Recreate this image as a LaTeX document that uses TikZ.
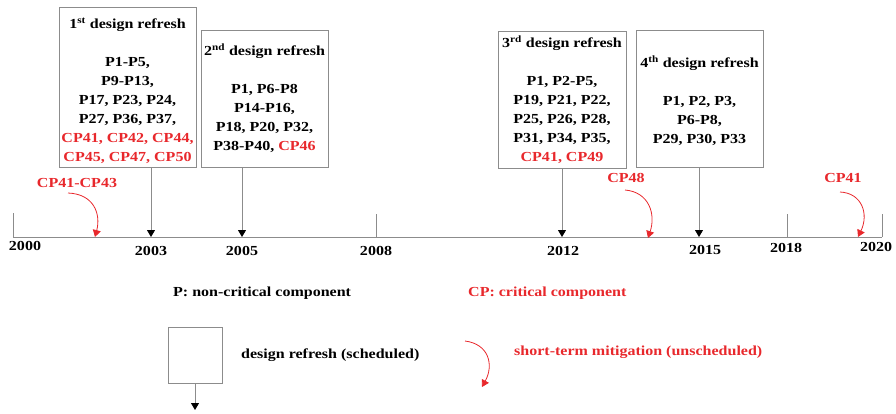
\documentclass[tikz,border=0pt]{standalone}
\usepackage{fontspec}
\setmainfont{Liberation Serif}[FakeStretch=1.16]
\usetikzlibrary{arrows.meta}
\definecolor{cpred}{RGB}{232,40,44}
\definecolor{linegray}{RGB}{140,140,140}
\tikzset{
  every node/.style={font=\fontsize{13.8}{19}\selectfont\bfseries, inner sep=0pt},
  box/.style={draw=linegray, line width=0.9pt, inner sep=0pt},
  boxtext/.style={align=center},
  blkarr/.style={draw=linegray, line width=0.9pt, -{Triangle[width=8pt,length=7pt,color=black]}},
  redarr/.style={draw=cpred, line width=0.8pt, -{Triangle[width=8pt,length=7pt,color=cpred]}},
  axisline/.style={draw=linegray, line width=0.9pt},
  yearlbl/.style={text=black},
  redlbl/.style={text=cpred}
}
\begin{document}
\begin{tikzpicture}[x=1pt,y=-1pt]
\useasboundingbox (0,0) rectangle (896,413);
% axis coordinates
\coordinate (a2000) at (13,237);
\coordinate (a2003) at (151,237);
\coordinate (a2005) at (242,237);
\coordinate (a2008) at (376,237);
\coordinate (a2012) at (562,237);
\coordinate (a2015) at (699,237);
\coordinate (a2018) at (787,237);
\coordinate (a2020) at (882,237);
\coordinate (t2000) at (13,213);
\coordinate (t2008) at (376,214);
\coordinate (t2018) at (787,214);
\coordinate (t2020) at (882,214);
\draw[axisline] (a2000) -- (a2020);
\draw[axisline] (t2000) -- (a2000);
\draw[axisline] (t2008) -- (a2008);
\draw[axisline] (t2018) -- (a2018);
\draw[axisline] (t2020) -- (a2020);
% year labels
\node[yearlbl] (y2000) at (25,246) {2000};
\node[yearlbl] (y2003) at (151,251) {2003};
\node[yearlbl] (y2005) at (242,251) {2005};
\node[yearlbl] (y2008) at (376,251) {2008};
\node[yearlbl] (y2012) at (563,251) {2012};
\node[yearlbl] (y2015) at (705,250) {2015};
\node[yearlbl] (y2018) at (786,248) {2018};
\node[yearlbl] (y2020) at (876,247) {2020};
% boxes
\node[box, minimum width=137pt, minimum height=160pt] (b1) at (127.5,87) {};
\node[boxtext] (b1t) at (127.5,91)
 {1\textsuperscript{st} design refresh\\[19pt]
  P1-P5,\\ P9-P13,\\ P17, P23, P24,\\ P27, P36, P37,\\
  \textcolor{cpred}{CP41, CP42, CP44,}\\ \textcolor{cpred}{CP45, CP47, CP50}};
\node[box, minimum width=127pt, minimum height=137pt] (b2) at (264.5,98.5) {};
\node[boxtext] (b2t) at (264.5,98)
 {2\textsuperscript{nd} design refresh\\[19pt]
  P1, P6-P8\\ P14-P16,\\ P18, P20, P32,\\ P38-P40, \textcolor{cpred}{CP46}};
\node[box, minimum width=128pt, minimum height=137pt] (b3) at (562,99.5) {};
\node[boxtext] (b3t) at (562,99.5)
 {3\textsuperscript{rd} design refresh\\[19pt]
  P1, P2-P5,\\ P19, P21, P22,\\ P25, P26, P28,\\ P31, P34, P35,\\
  \textcolor{cpred}{CP41, CP49}};
\node[box, minimum width=127pt, minimum height=137pt] (b4) at (699.5,98.5) {};
\node[boxtext] (b4t) at (699.5,100.5)
 {4\textsuperscript{th} design refresh\\[19pt]
  P1, P2, P3,\\ P6-P8,\\ P29, P30, P33};
\draw[blkarr] (b1.south -| a2003) -- (a2003);
\draw[blkarr] (b2.south -| a2005) -- (a2005);
\draw[blkarr] (b3.south -| a2012) -- (a2012);
\draw[blkarr] (b4.south -| a2015) -- (a2015);
% short-term mitigations
\node[redlbl] (m1) at (77,183) {CP41-CP43};
\node[redlbl] (m2) at (626,178) {CP48};
\node[redlbl] (m3) at (843,178) {CP41};
\coordinate (m1s) at (68,193);
\coordinate (m1e) at (95,237);
\coordinate (m2s) at (625,190);
\coordinate (m2e) at (648,238);
\coordinate (m3s) at (840,192);
\coordinate (m3e) at (858,237);
\draw[redarr] (m1s) .. controls (94,194) and (101,214) .. (m1e);
\draw[redarr] (m2s) .. controls (649,192) and (656,214) .. (m2e);
\draw[redarr] (m3s) .. controls (862,193) and (869,214) .. (m3e);
% legend
\node[anchor=west] (lp) at (173,293) {P: non-critical component};
\node[anchor=west, redlbl] (lcp) at (468,293) {CP: critical component};
\node[box, minimum width=54pt, minimum height=56pt] (lbox) at (195,355) {};
\coordinate (lboxe) at (195,410);
\draw[blkarr] (lbox.south) -- (lboxe);
\node[anchor=west] (ldr) at (241,355) {design refresh (scheduled)};
\coordinate (lms) at (465,341);
\coordinate (lme) at (482,387);
\draw[redarr] (lms) .. controls (489,344) and (494,365) .. (lme);
\node[anchor=west, redlbl] (lst) at (514,352) {short-term mitigation (unscheduled)};
\end{tikzpicture}
\end{document}
